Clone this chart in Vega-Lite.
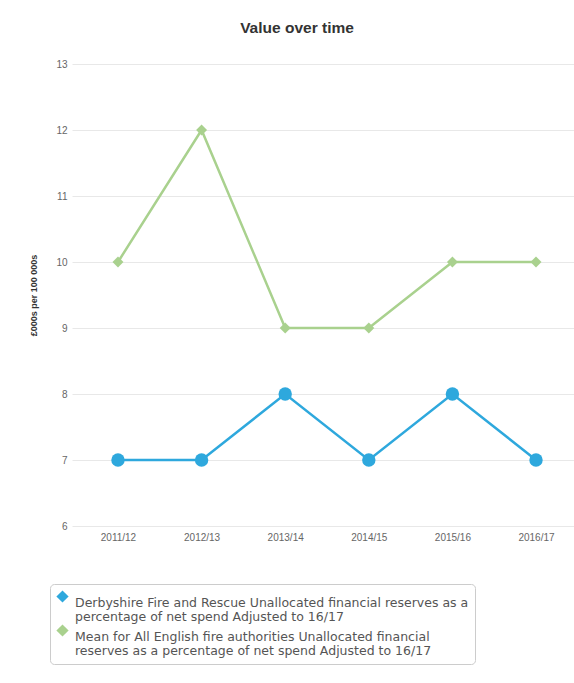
{
  "$schema": "https://vega.github.io/schema/vega-lite/v6.json",
  "width": 510,
  "height": 462,
  "autosize": {"type": "none"},
  "padding": {"left": 72, "top": 64, "right": 0, "bottom": 157},
  "background": "white",
  "config": {"view": {"stroke": null}},
  "title": {"text": "Value over time", "fontSize": 15.5, "font": "Liberation Sans", "fontWeight": "bold", "color": "#333333", "anchor": "middle", "dx": -30, "offset": 23},
  "data": {"values": [
    {"year": "2011/12", "series": "Derbyshire Fire and Rescue Unallocated financial reserves as a percentage of net spend Adjusted to 16/17", "value": 7},
    {"year": "2012/13", "series": "Derbyshire Fire and Rescue Unallocated financial reserves as a percentage of net spend Adjusted to 16/17", "value": 7},
    {"year": "2013/14", "series": "Derbyshire Fire and Rescue Unallocated financial reserves as a percentage of net spend Adjusted to 16/17", "value": 8},
    {"year": "2014/15", "series": "Derbyshire Fire and Rescue Unallocated financial reserves as a percentage of net spend Adjusted to 16/17", "value": 7},
    {"year": "2015/16", "series": "Derbyshire Fire and Rescue Unallocated financial reserves as a percentage of net spend Adjusted to 16/17", "value": 8},
    {"year": "2016/17", "series": "Derbyshire Fire and Rescue Unallocated financial reserves as a percentage of net spend Adjusted to 16/17", "value": 7},
    {"year": "2011/12", "series": "Mean for All English fire authorities Unallocated financial reserves as a percentage of net spend Adjusted to 16/17", "value": 10},
    {"year": "2012/13", "series": "Mean for All English fire authorities Unallocated financial reserves as a percentage of net spend Adjusted to 16/17", "value": 12},
    {"year": "2013/14", "series": "Mean for All English fire authorities Unallocated financial reserves as a percentage of net spend Adjusted to 16/17", "value": 9},
    {"year": "2014/15", "series": "Mean for All English fire authorities Unallocated financial reserves as a percentage of net spend Adjusted to 16/17", "value": 9},
    {"year": "2015/16", "series": "Mean for All English fire authorities Unallocated financial reserves as a percentage of net spend Adjusted to 16/17", "value": 10},
    {"year": "2016/17", "series": "Mean for All English fire authorities Unallocated financial reserves as a percentage of net spend Adjusted to 16/17", "value": 10}
  ]},
  "encoding": {
    "x": {"field": "year", "type": "ordinal", "scale": {"type": "point", "padding": 0.55},
      "axis": {"title": null, "labelAngle": 0, "labelFontSize": 10, "labelColor": "#666666", "labelFont": "Liberation Sans", "domain": false, "ticks": false, "grid": false, "labelPadding": 6}},
    "y": {"field": "value", "type": "quantitative", "scale": {"domain": [6, 13], "nice": false, "zero": false},
      "axis": {"title": "£000s per 100 000s", "titleFontSize": 9, "titleFont": "Liberation Sans", "titleFontWeight": "bold", "titleColor": "#333333", "titlePadding": 17, "values": [6,7,8,9,10,11,12,13], "labelFontSize": 10, "labelColor": "#666666", "labelFont": "Liberation Sans", "domain": false, "ticks": false, "gridColor": "#e8e8e8", "labelPadding": 5}},
    "color": {"field": "series", "type": "nominal", "scale": {"range": ["#2ea8dd", "#a9d18e"]},
      "legend": {"title": null, "orient": "none", "legendX": -22, "legendY": 520, "direction": "vertical", "symbolType": "diamond", "symbolSize": 150, "symbolStrokeWidth": 0,
        "labelFont": "DejaVu Sans", "labelFontSize": 12.5, "labelColor": "#555555", "labelLimit": 600, "labelBaseline": "top", "labelOffset": 6,
        "labelExpr": "indexof(datum.label, 'Derbyshire') == 0 ? ['Derbyshire Fire and Rescue Unallocated financial reserves as a', 'percentage of net spend Adjusted to 16/17'] : ['Mean for All English fire authorities Unallocated financial', 'reserves as a percentage of net spend Adjusted to 16/17']",
        "strokeColor": "#cccccc", "cornerRadius": 4, "padding": 6, "rowPadding": 0, "fillColor": "white"}}
  },
  "layer": [
    {"mark": {"type": "line", "strokeWidth": 2.5}},
    {"mark": {"type": "point", "filled": true, "opacity": 1},
      "encoding": {"shape": {"field": "series", "type": "nominal", "scale": {"range": ["circle", "diamond"]}, "legend": null},
        "size": {"field": "series", "type": "nominal", "scale": {"range": [180, 120]}, "legend": null}}}
  ]
}
